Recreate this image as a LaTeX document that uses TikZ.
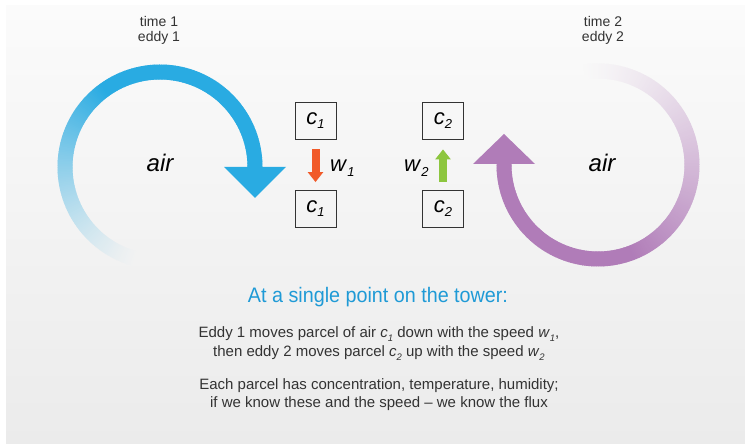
\documentclass[tikz,border=0pt]{standalone}
\usepackage{fontspec}
\setmainfont{Liberation Sans}
\newfontfamily\condfont[FakeStretch=0.94]{Liberation Sans}
\usetikzlibrary{arrows.meta}
\definecolor{eddyblue}{HTML}{29ABE2}
\definecolor{eddypurple}{HTML}{B07CB8}
\definecolor{bgtop}{HTML}{FBFBFB}
\definecolor{bgbot}{HTML}{EBEBEB}
\definecolor{bglow}{HTML}{F2F2F2}
\definecolor{bghigh}{HTML}{F8F8F8}
\definecolor{downorange}{HTML}{F15A29}
\definecolor{upgreen}{HTML}{8DC63F}
\definecolor{titleblue}{HTML}{1F9AD6}
\definecolor{txt}{HTML}{333333}
\newcommand\csub[2]{\textit{#1}\raisebox{-0.35ex}{\fontsize{13}{13}\selectfont\textit{#2}}}
\newcommand\bsub[2]{\textit{#1}\raisebox{-0.4ex}{\fontsize{9.5}{9.5}\selectfont\textit{#2}}}
\begin{document}
\begin{tikzpicture}[x=1pt,y=1pt,
  cbox/.style={draw=txt, line width=0.8pt, minimum width=41pt, minimum height=37pt, inner sep=0pt, font=\fontsize{22}{22}\selectfont, text=black},
  airlabel/.style={font=\fontsize{24}{24}\selectfont\itshape, text=black, anchor=base},
  wlabel/.style={font=\fontsize{22}{22}\selectfont, text=black, anchor=base west, inner sep=0pt},
  toplabel/.style={font=\fontsize{14}{14}\selectfont, text=txt, anchor=base, inner sep=0pt},
  bodyline/.style={font=\fontsize{15}{15}\selectfont, text=txt, anchor=base, inner sep=0pt},
  flowarrow/.style={line width=8pt, -{Triangle[width=15pt,length=10pt]}},
  ring/.style={line width=15pt}
]
\useasboundingbox (0,0) rectangle (745,444);
\fill[white] (0,0) rectangle (745,444);
\shade[top color=bgtop, bottom color=bgbot] (6,0) rectangle (745,438);

% left eddy (time 1)
\foreach \a in {-1,0,...,254}{
  \pgfmathsetmacro\p{\a<125 ? 100 : 100*((255-\a)/130)^1.3}
  \draw[ring, eddyblue!\p!bglow] (160,277) ++(\a:95) arc[start angle=\a, end angle=\a+1.4, radius=95];
}
\fill[eddyblue] (224,277) -- (286,277) -- (255,246) -- cycle;

% right eddy (time 2)
\foreach \a in {179,180,...,457}{
  \pgfmathsetmacro\p{\a<290 ? 100 : 100*((458-\a)/168)^1.3}
  \draw[ring, eddypurple!\p!bghigh] (598,279) ++(\a:94) arc[start angle=\a, end angle=\a+1.4, radius=94];
}
\fill[eddypurple] (473,280) -- (535,280) -- (504,310) -- cycle;

\node[airlabel] (air1) at (160,272) {air};
\node[airlabel] (air2) at (602,272) {air};

\node[toplabel] (t1) at (159,417) {time 1};
\node[toplabel] (e1) at (159,402) {eddy 1};
\node[toplabel] (t2) at (603,417) {time 2};
\node[toplabel] (e2) at (603,402) {eddy 2};

% parcels
\node[cbox] (c1t) at (315.5,323.5) {\csub{c}{1}};
\node[cbox] (c1b) at (315.5,235) {\csub{c}{1}};
\node[cbox] (c2t) at (443,323.5) {\csub{c}{2}};
\node[cbox] (c2b) at (443,235) {\csub{c}{2}};

\draw[flowarrow, downorange, shorten <=10pt, shorten >=8pt] (c1t) -- (c1b);
\draw[flowarrow, upgreen, shorten <=8pt, shorten >=10pt] (c2b) -- (c2t);

\node[wlabel] (w1) at (330,272) {\csub{w}{1}};
\node[wlabel] (w2) at (404,272) {\csub{w}{2}};

% text
\node[anchor=base, inner sep=0pt, text=titleblue, font=\condfont\fontsize{21}{21}\selectfont] (title) at (378,141) {At a single point on the tower:};
\node[bodyline] (l1) at (379,106) {Eddy 1 moves parcel of air \bsub{c}{1} down with the speed \bsub{w}{1},};
\node[bodyline] (l2) at (379,87) {then eddy 2 moves parcel \bsub{c}{2} up with the speed \bsub{w}{2}};
\node[bodyline] (l3) at (379,54) {Each parcel has concentration, temperature, humidity;};
\node[bodyline] (l4) at (379,36) {if we know these and the speed \textendash{} we know the flux};
\end{tikzpicture}
\end{document}
